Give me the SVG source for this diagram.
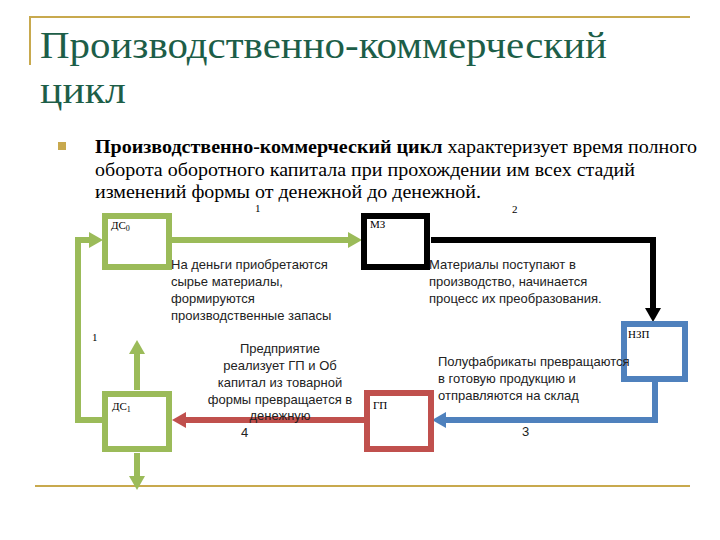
<svg xmlns="http://www.w3.org/2000/svg" width="720" height="540" viewBox="0 0 720 540">
<style>
.t{font-family:"Liberation Serif","Times New Roman","DejaVu Serif",serif;fill:#1d5e48;font-size:38px}
.b{font-family:"Liberation Serif","Times New Roman","DejaVu Serif",serif;font-size:18px;fill:#000}
.s{font-family:"Liberation Sans",Arial,sans-serif;font-size:13px;fill:#222}
.n{font-family:"Liberation Serif","DejaVu Serif",serif;font-size:11px;fill:#000}
.box{fill:#fff;stroke-width:6}
.c{fill:none;stroke-width:6}
</style>
<rect width="720" height="540" fill="#fff"/>
<path d="M30,65V17H690" fill="none" stroke="#c8a94e" stroke-width="2"/>
<line x1="35" y1="486" x2="690" y2="486" stroke="#c8a94e" stroke-width="2"/>
<text class="t" x="40" y="58" textLength="567" lengthAdjust="spacingAndGlyphs">Производственно-коммерческий</text>
<text class="t" x="40" y="103" textLength="86" lengthAdjust="spacingAndGlyphs">цикл</text>
<rect x="58" y="142" width="8" height="8" fill="#c8a94e"/>
<text class="b" x="95" y="153" textLength="602" lengthAdjust="spacingAndGlyphs"><tspan font-weight="bold">Производственно-коммерческий цикл</tspan> характеризует время полного</text>
<text class="b" x="95" y="176" textLength="540" lengthAdjust="spacingAndGlyphs">оборота оборотного капитала при прохождении им всех стадий</text>
<text class="b" x="95" y="198" textLength="386" lengthAdjust="spacingAndGlyphs">изменений формы от денежной до денежной.</text>
<g id="connectors">
<path class="c" stroke="#9bbb59" d="M172,240H350"/>
<polygon points="348,232 362,240 348,248" fill="#9bbb59"/>
<path class="c" stroke="#000" d="M431,240H653V310"/>
<polygon points="645,308 653,322 661,308" fill="#000"/>
<path class="c" stroke="#4f81bd" d="M655,382V420H444"/>
<polygon points="446,412 432,420 446,428" fill="#4f81bd"/>
<path class="c" stroke="#c0504d" d="M365,420H184"/>
<polygon points="186,412 172,420 186,428" fill="#c0504d"/>
<path class="c" stroke="#9bbb59" d="M102,420H78V240H91"/>
<polygon points="89,232 103,240 89,248" fill="#9bbb59"/>
<path class="c" stroke="#9bbb59" d="M137,390V352"/>
<polygon points="129,354 137,340 145,354" fill="#9bbb59"/>
<path class="c" stroke="#9bbb59" d="M137,453V478"/>
<polygon points="129,476 137,490 145,476" fill="#9bbb59"/>
</g>
<g id="ds0"><rect class="box" x="105" y="216" width="64" height="51" stroke="#9bbb59"/><text class="n" x="111" y="229">ДС<tspan font-size="8" dy="2">0</tspan></text></g>
<g id="mz"><rect class="box" x="364" y="216" width="63" height="51" stroke="#000"/><text class="n" x="370" y="228">МЗ</text></g>
<g id="nzp"><rect class="box" x="624" y="324" width="61" height="55" stroke="#4f81bd"/><text class="n" x="628" y="338">НЗП</text></g>
<g id="gp"><rect class="box" x="367" y="393" width="64" height="56" stroke="#c0504d"/><text class="n" x="373" y="409">ГП</text></g>
<g id="ds1"><rect class="box" x="105" y="394" width="64" height="55" stroke="#9bbb59"/><text class="n" x="112" y="410">ДС<tspan font-size="8" dy="2">1</tspan></text></g>
<text class="n" x="255" y="212">1</text>
<text class="n" x="512" y="213">2</text>
<text class="n" x="92" y="341">1</text>
<text class="s" x="241" y="437">4</text>
<text class="s" x="522" y="436">3</text>
<text class="s" x="171" y="269">На деньги приобретаются</text>
<text class="s" x="171" y="286">сырье материалы,</text>
<text class="s" x="171" y="303">формируются</text>
<text class="s" x="171" y="320">производственные запасы</text>
<text class="s" x="429" y="269">Материалы поступают в</text>
<text class="s" x="429" y="286">производство, начинается</text>
<text class="s" x="429" y="303">процесс их преобразования.</text>
<g text-anchor="middle">
<text class="s" x="280" y="353">Предприятие</text>
<text class="s" x="280" y="370">реализует ГП и Об</text>
<text class="s" x="280" y="387">капитал из товарной</text>
<text class="s" x="280" y="404">формы превращается в</text>
<text class="s" x="280" y="420">денежную</text>
</g>
<text class="s" x="438" y="366">Полуфабрикаты превращаются</text>
<text class="s" x="438" y="383">в готовую продукцию и</text>
<text class="s" x="438" y="400">отправляются на склад</text>
</svg>
